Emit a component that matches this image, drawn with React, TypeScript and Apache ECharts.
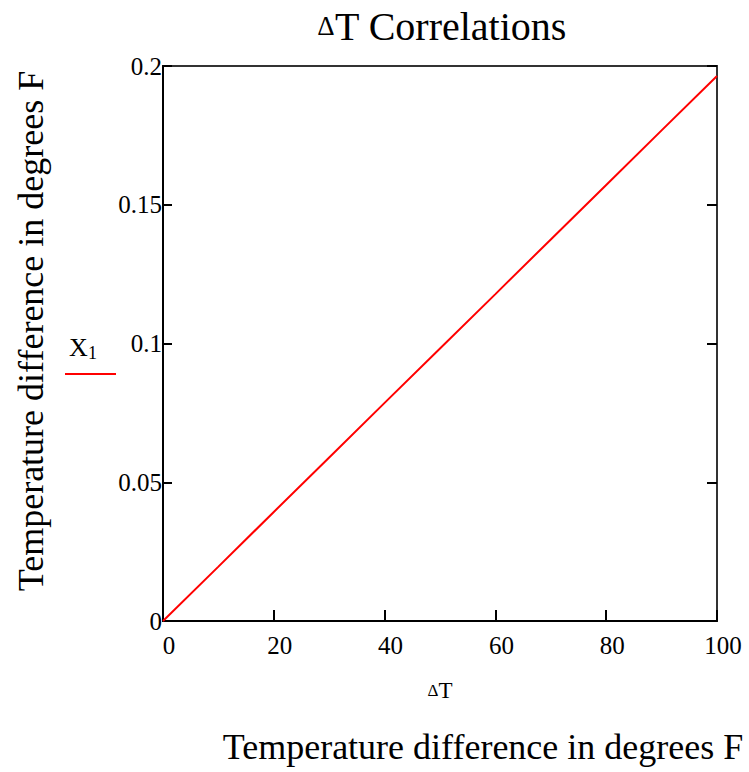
import React, { useEffect, useRef } from "react";
import * as echarts from "echarts";

const deltaT = [0, 10, 20, 30, 40, 50, 60, 70, 80, 90, 100];
const x1Values = [0, 0.0196, 0.0393, 0.0589, 0.0786, 0.0982, 0.1178, 0.1375, 0.1571, 0.1768, 0.1964];
const titleText = "T Correlations";
const axisTitle = "Temperature difference in degrees F";
const seriesName = "X";

const FONT = "'Liberation Serif', 'Times New Roman', serif";

export default function App() {
  const ref = useRef<HTMLDivElement>(null);
  useEffect(() => {
    if (!ref.current) return;
    const chart = echarts.init(ref.current, undefined, { renderer: "svg" });
    const data = deltaT.map((x, i) => [x, x1Values[i]]);
    chart.setOption({
      animation: false,
      backgroundColor: "#ffffff",
      textStyle: { fontFamily: FONT },
      grid: {
        left: 163,
        top: 66,
        right: 32,
        bottom: 151,
        show: true,
        borderColor: "#333333",
        borderWidth: 2,
        backgroundColor: "transparent",
      },
      xAxis: {
        type: "value",
        min: 0,
        max: 100,
        interval: 20,
        name: "{d|Δ}T",
        nameLocation: "middle",
        nameGap: 58,
        nameTextStyle: {
          fontFamily: FONT,
          color: "#000",
          fontSize: 23,
          rich: { d: { fontSize: 17, fontFamily: FONT, color: "#000" } },
        },
        axisLine: { show: true, lineStyle: { color: "#000", width: 2 } },
        axisTick: { show: true, inside: true, length: 11, lineStyle: { color: "#000", width: 2 } },
        axisLabel: { color: "#000", fontSize: 25, fontFamily: FONT, margin: 12, padding: [0, 0, 0, 12] },
        splitLine: { show: false },
      },
      yAxis: [
        {
          type: "value",
          min: 0,
          max: 0.2,
          interval: 0.05,
          position: "left",
          axisLine: { show: true, lineStyle: { color: "#000", width: 2 } },
          axisTick: { show: true, inside: true, length: 9, lineStyle: { color: "#000", width: 2 } },
          axisLabel: { color: "#000", fontSize: 25, fontFamily: FONT, margin: 1, padding: [10, 0, 0, 0] },
          splitLine: { show: false },
        },
        {
          type: "value",
          min: 0,
          max: 0.2,
          interval: 0.05,
          position: "right",
          axisLine: { show: true, lineStyle: { color: "#333", width: 2 } },
          axisTick: { show: true, inside: true, length: 10, lineStyle: { color: "#000", width: 2 } },
          axisLabel: { show: false },
          splitLine: { show: false },
        },
      ],
      series: [
        {
          name: seriesName,
          type: "line",
          data,
          showSymbol: false,
          symbol: "none",
          lineStyle: { color: "#ff0000", width: 2 },
          itemStyle: { color: "#ff0000" },
        },
      ],
      graphic: [
        {
          type: "text",
          x: 442,
          y: 26,
          style: {
            text: "{d|Δ}{t|" + titleText + "}",
            align: "center",
            verticalAlign: "middle",
            rich: {
              d: { fontSize: 27, fontFamily: FONT, fill: "#000" },
              t: { fontSize: 40, fontFamily: FONT, fill: "#000" },
            },
          },
        },
        {
          type: "text",
          x: 31,
          y: 331,
          rotation: Math.PI / 2,
          style: {
            text: axisTitle,
            fontSize: 36,
            fontFamily: FONT,
            fill: "#000",
            align: "center",
            verticalAlign: "middle",
          },
        },
        {
          type: "text",
          x: 483,
          y: 747,
          style: {
            text: axisTitle,
            fontSize: 36,
            fontFamily: FONT,
            fill: "#000",
            align: "center",
            verticalAlign: "middle",
          },
        },
        {
          type: "text",
          x: 83,
          y: 347,
          style: {
            text: "{x|" + seriesName + "}{s|1}",
            align: "center",
            verticalAlign: "middle",
            rich: {
              x: { fontSize: 26, fontFamily: FONT, fill: "#000" },
              s: { fontSize: 18, fontFamily: FONT, fill: "#000", padding: [12, 0, 0, 0] },
            },
          },
        },
        {
          type: "line",
          shape: { x1: 65, y1: 374, x2: 116, y2: 374 },
          style: { stroke: "#ff0000", lineWidth: 2 },
        },
      ],
    });
    return () => chart.dispose();
  }, []);
  return (
    <div
      ref={ref}
      style={{ position: "fixed", left: 0, top: 0, width: 749, height: 772, background: "#fff" }}
    />
  );
}
